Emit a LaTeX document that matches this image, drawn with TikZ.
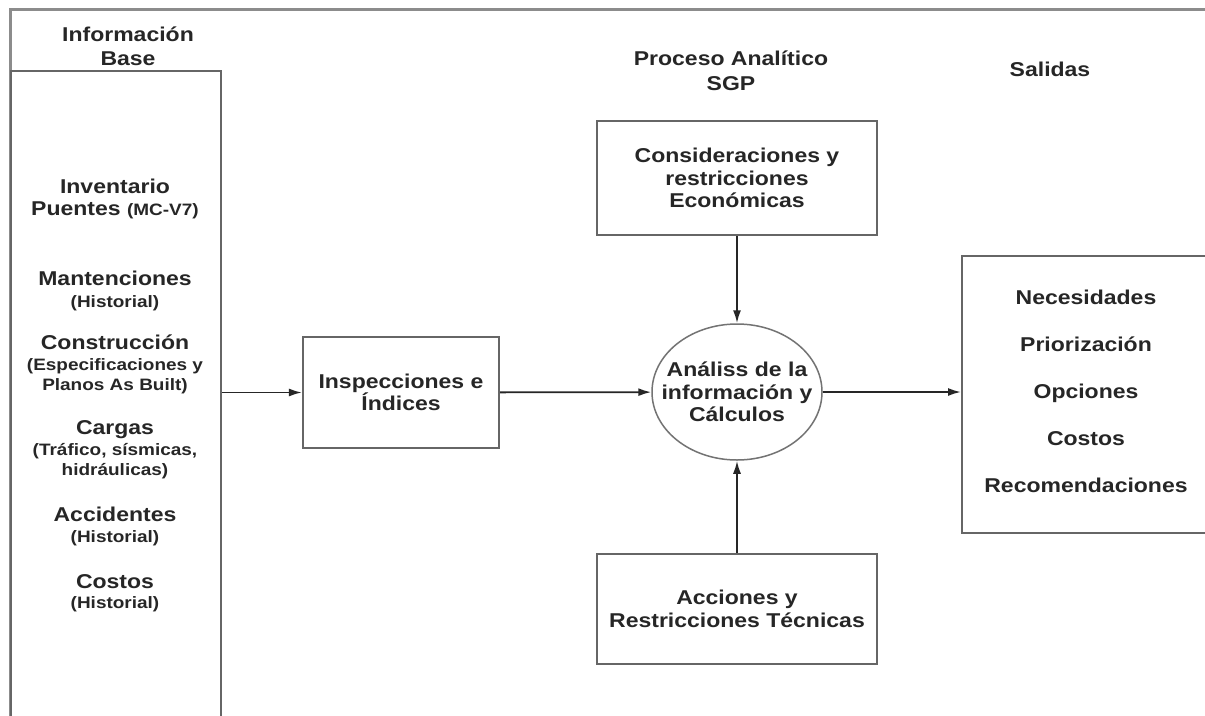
\documentclass[tikz,border=0pt]{standalone}
\usepackage{fontspec}
\setmainfont{Liberation Sans}[FakeStretch=1.15]
\usetikzlibrary{shapes.geometric,arrows.meta}

\newcommand{\maintxt}{\bfseries\fontsize{20}{22.5}\selectfont}
\newcommand{\subtxt}{\bfseries\fontsize{16.5}{19}\selectfont}

\begin{document}
\begin{tikzpicture}[x=1pt,y=-1pt,
  every node/.style={font=\maintxt,text=black!85},
  box/.style={draw=black!60,line width=2.2pt,rectangle,align=center,inner sep=0pt},
  flow/.style={draw=black!85,line width=1.8pt,-{Latex[length=13pt,width=8pt]}},
  frame/.style={draw=black!45,line width=3pt}]
\useasboundingbox (0,0) rectangle (1205,715);
\clip (0,0) rectangle (1205,715);
\fill[white] (0,0) rectangle (1205,715);
% outer frame
\draw[frame] (10,730) -- (10,9) -- (1230,9);
% headings
\node[anchor=base] (hdinfo) at (128,41) {Información};
\node[anchor=base] (hdbase) at (128,65) {Base};
\node[anchor=base] (hdproc) at (731,65) {Proceso Analítico};
\node[anchor=base] (hdsgp) at (731,90) {SGP};
\node[anchor=base] (hdsal) at (1050,76) {Salidas};
% input column
\node[box,anchor=north west,minimum width=210,minimum height=680] (base) at (10,70) {};
\foreach \y/\txt [count=\i] in {193/Inventario, 215/{Puentes {\subtxt (MC-V7)}},
    285/Mantenciones, 349/Construcción, 434/Cargas, 521/Accidentes, 588/Costos}
  \node[anchor=base] (item\i) at (115,\y) {\txt};
\foreach \y/\txt [count=\i] in {307/(Historial), 370/(Especificaciones y,
    390/Planos As Built), 455/{(Tráfico, sísmicas,}, 475/hidráulicas),
    542/(Historial), 608/(Historial)}
  \node[anchor=base,font=\subtxt] (note\i) at (115,\y) {\txt};
% process
\node[box,minimum width=196,minimum height=111] (insp) at (401,392.5) {Inspecciones e\\Índices};
\node[box,minimum width=280,minimum height=114] (econ) at (737,178) {Consideraciones y\\restricciones\\Económicas};
\node[box,minimum width=280,minimum height=110] (tec) at (737,609) {Acciones y\\Restricciones Técnicas};
\node[ellipse,draw=black!55,line width=1.5pt,minimum width=170,minimum height=136] (calc) at (737,392) {};
\node[align=center] (calctxt) at (calc) {Análiss de la\\información y\\Cálculos};
% outputs
\node[box,anchor=north west,minimum width=280,minimum height=277] (sal) at (961,255) {};
\foreach \txt [count=\i] in {Necesidades, Priorización, Opciones, Costos, Recomendaciones}
  \node[anchor=base] (out\i) at (1086,{304+47*(\i-1)}) {\txt};
% connectors
\draw[flow] (insp.west -| base.east) -- (insp.west);
\draw[flow] (insp) -- (calc);
\draw[flow] (econ) -- (calc);
\draw[flow] (tec) -- (calc);
\draw[flow] (calc.east) -- (calc.east -| sal.west);
\end{tikzpicture}
\end{document}
